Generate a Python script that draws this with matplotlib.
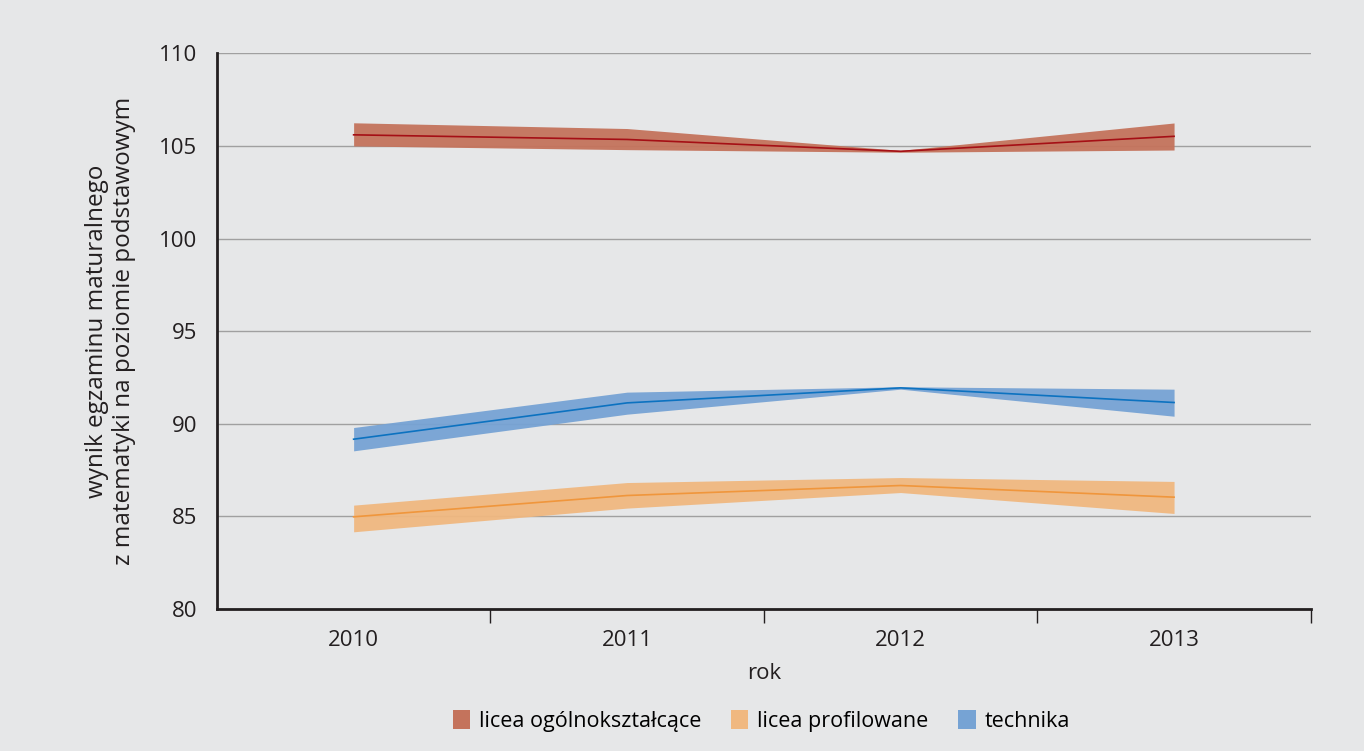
import numpy as np
import matplotlib.pyplot as plt
from matplotlib.patches import Patch

plt.rcParams['font.family'] = ['Open Sans', 'DejaVu Sans']

years = ['2010', '2011', '2012', '2013']

# licea ogolnoksztalcace
lo_mid = [105.6, 105.35, 104.71, 105.52]
lo_low = [105.0, 104.8, 104.66, 104.78]
lo_high = [106.25, 105.94, 104.76, 106.24]

# licea profilowane
lp_mid = [84.98, 86.13, 86.67, 86.04]
lp_low = [84.17, 85.45, 86.29, 85.16]
lp_high = [85.61, 86.83, 87.1, 86.89]

# technika
te_mid = [89.17, 91.13, 91.94, 91.15]
te_low = [88.54, 90.52, 91.87, 90.41]
te_high = [89.8, 91.71, 92.0, 91.87]

labels = ['licea ogólnokształcące', 'licea profilowane', 'technika']
fills = ['#c4735c', '#f0b880', '#76a3d4']
lines = ['#a50f15', '#f0963c', '#0c72c0']

bg = '#e6e7e8'
fig = plt.figure(figsize=(13.64, 7.51), dpi=100, facecolor=bg)
ax = fig.add_axes([0.159, 0.189, 0.802, 0.74], facecolor=bg)

x = np.arange(len(years))
series = [(lo_low, lo_mid, lo_high), (lp_low, lp_mid, lp_high), (te_low, te_mid, te_high)]
for (lo, mid, hi), fc, lc in zip(series, fills, lines):
    ax.fill_between(x, lo, hi, color=fc, alpha=0.95, lw=0, zorder=2)
    ax.plot(x, mid, color=lc, lw=1.2, zorder=3)

ax.set_xlim(-0.5, 3.5)
ax.set_ylim(80, 110)
ax.set_yticks(range(80, 111, 5))
ax.yaxis.grid(True, color='#a0a0a0', lw=1, zorder=1)
ax.set_axisbelow(True)
ax.set_xticks(x)
ax.set_xticklabels(years)
ax.set_xticks([0.5, 1.5, 2.5, 3.5], minor=True)
ax.tick_params(axis='x', which='major', length=0, pad=15, labelsize=16, colors='#231f20')
ax.tick_params(axis='x', which='minor', length=10, width=1, color='#231f20', direction='out')
ax.tick_params(axis='y', length=0, pad=14, labelsize=16, colors='#231f20')

for s in ['top', 'right']:
    ax.spines[s].set_visible(False)
for s in ['left', 'bottom']:
    ax.spines[s].set_linewidth(2)
    ax.spines[s].set_color('#231f20')

ax.set_xlabel('rok', fontsize=16, color='#231f20', labelpad=9)
ax.set_ylabel('wynik egzaminu maturalnego\nz matematyki na poziomie podstawowym',
              fontsize=17.5, color='#231f20', labelpad=17, linespacing=1.15)

handles = [Patch(facecolor=c, edgecolor='none') for c in fills]
fig.legend(handles, labels, loc='center', bbox_to_anchor=(0.558, 0.04), ncol=3,
           frameon=False, fontsize=15.5, handlelength=0.8, handleheight=1.0,
           handletextpad=0.4, columnspacing=1.4)

fig.savefig('out.png', dpi=100, facecolor=bg)
